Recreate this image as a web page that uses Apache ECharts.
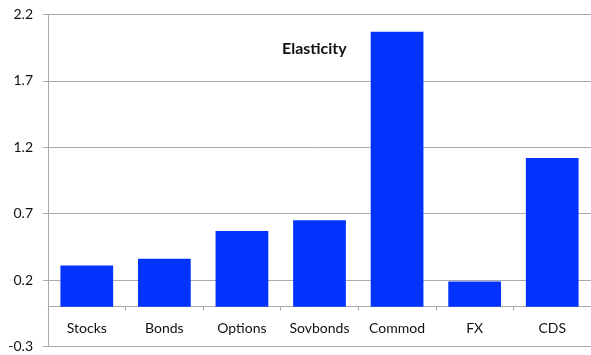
<!DOCTYPE html>
<html>
<head>
<meta charset="utf-8">
<script src="https://cdn.jsdelivr.net/npm/echarts@6/dist/echarts.min.js"></script>
<style>html,body{margin:0;padding:0;background:#fff;}#c{width:591px;height:355px;}</style>
</head>
<body>
<div id="c"></div>
<script>
var categories = ['Stocks', 'Bonds', 'Options', 'Sovbonds', 'Commod', 'FX', 'CDS'];
var elasticity = [0.31, 0.36, 0.57, 0.65, 2.07, 0.19, 1.12];
var chartTitle = 'Elasticity';
var yMin = -0.3, yMax = 2.2, yStep = 0.5;

var chart = echarts.init(document.getElementById('c'), null, {renderer: 'canvas'});
var font = 'Lato';
chart.setOption({
  animation: false,
  title: {
    text: chartTitle,
    left: 277, top: 36,
    textStyle: {fontFamily: font, fontSize: 16, fontWeight: 'bold', color: '#111'}
  },
  grid: {left: 48, right: 0, top: 14.5, bottom: 8.5, containLabel: false, outerBoundsMode: 'none'},
  xAxis: {
    type: 'category',
    data: categories,
    axisLine: {onZero: true, lineStyle: {color: '#aaaaaa', width: 1}},
    axisTick: {show: true, length: 4, interval: 0, alignWithLabel: false, lineStyle: {color: '#aaaaaa'}},
    axisLabel: {margin: -25, interval: 0, hideOverlap: false, fontFamily: font, fontSize: 14, color: '#111'},
    splitLine: {show: false}
  },
  yAxis: {
    type: 'value',
    min: yMin, max: yMax, interval: yStep,
    axisLine: {show: true, lineStyle: {color: '#aaaaaa'}},
    axisTick: {show: true, length: 5, lineStyle: {color: '#aaaaaa'}},
    axisLabel: {margin: 15, fontFamily: font, fontSize: 14, color: '#111',
      formatter: function (v) { return (Math.round(v * 10) / 10).toFixed(1); }},
    splitLine: {show: true, lineStyle: {color: '#aaaaaa', width: 1}}
  },
  series: [{
    type: 'bar',
    data: elasticity,
    barCategoryGap: '32%',
    itemStyle: {color: '#0433FF'}
  }]
});
</script>
</body>
</html>
